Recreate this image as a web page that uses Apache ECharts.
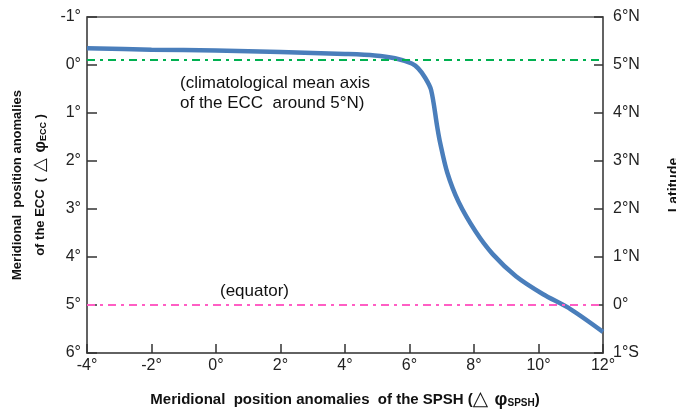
<!DOCTYPE html>
<html>
<head>
<meta charset="utf-8">
<script src="https://cdn.jsdelivr.net/npm/echarts@6/dist/echarts.min.js"></script>
<style>
html,body{margin:0;padding:0;background:#fff;}
#chart{width:676px;height:412px;}
</style>
</head>
<body>
<div id="chart"></div>
<script>
// SPSH meridional anomaly (x) and ECC meridional anomaly (y)
var spshAnomaly = [-4, -2, 0, 2, 4, 4.92, 5.55, 6.07, 6.27, 6.48, 6.67, 6.86, 6.95, 7.17, 7.52, 8.05, 8.58, 9.3, 10.13, 11.0, 12.0];
var eccAnomaly  = [-0.35, -0.32, -0.30, -0.27, -0.23, -0.20, -0.14, -0.03, 0.07, 0.26, 0.52, 1.29, 1.62, 2.24, 2.85, 3.47, 3.94, 4.40, 4.77, 5.09, 5.56];

// reference lines (values on the ECC anomaly axis)
var refLineNames  = ['climatological mean axis', 'equator'];
var refLineValues = [-0.1, 5];
var refLineColors = ['#00B050', '#FF5EC4'];

// tick labels
var xTickLabels     = ['-4°', '-2°', '0°', '2°', '4°', '6°', '8°', '10°', '12°'];
var leftTickLabels  = ['-1°', '0°', '1°', '2°', '3°', '4°', '5°', '6°'];
var rightTickLabels = ['6°N', '5°N', '4°N', '3°N', '2°N', '1°N', '0°', '1°S'];

var FONT = 'Liberation Sans, Arial, sans-serif';
var axisColor = '#595959';

var chart = echarts.init(document.getElementById('chart'));

var points = spshAnomaly.map(function (x, i) { return [x, eccAnomaly[i]]; });

function nameRich(base, lh) {
  return {
    n: { fontSize: base, fontWeight: 'bold', color: '#111', fontFamily: FONT, lineHeight: lh },
    t: { fontSize: base + 5, color: '#111', fontFamily: 'DejaVu Sans, sans-serif', lineHeight: lh },
    p: { fontSize: base + 3, fontWeight: 'bold', color: '#111', fontFamily: FONT, lineHeight: lh },
    s: { fontSize: Math.round(base * 0.68), fontWeight: 'bold', color: '#111', fontFamily: FONT, lineHeight: lh, padding: [7, 0, 0, 0] }
  };
}

var option = {
  animation: false,
  grid: {
    left: 87, right: 73, top: 17, bottom: 59,
    outerBoundsMode: 'none',
    containLabel: false,
    show: true, borderColor: axisColor, borderWidth: 1.5, backgroundColor: 'transparent'
  },
  xAxis: {
    type: 'value', min: -4, max: 12, interval: 2,
    axisLine: { show: true, onZero: false, lineStyle: { color: axisColor, width: 1.5 } },
    axisTick: { show: true, inside: true, length: 9, lineStyle: { color: '#333', width: 1.5 } },
    splitLine: { show: false },
    axisLabel: {
      margin: 5, fontSize: 16, color: '#222', fontFamily: FONT,
      formatter: function (v) { return xTickLabels[Math.round((v + 4) / 2)]; }
    },
    name: '{n|Meridional  position anomalies  of the SPSH (}{t|△ }{p|φ}{s|SPSH}{n|)}',
    nameLocation: 'middle', nameGap: 36,
    nameTextStyle: { rich: nameRich(15, 22) }
  },
  yAxis: [
    {
      type: 'value', min: -1, max: 6, interval: 1, inverse: true, position: 'left',
      axisLine: { show: true, onZero: false, lineStyle: { color: axisColor, width: 1.5 } },
      axisTick: { show: true, inside: true, length: 10, lineStyle: { color: '#333', width: 1.5 } },
      splitLine: { show: false },
      axisLabel: {
        margin: 6, fontSize: 16, color: '#222', fontFamily: FONT,
        formatter: function (v) { return leftTickLabels[Math.round(v + 1)]; }
      },
      name: '{n|Meridional  position anomalies}\n{n|of the ECC  (}{t| △ }{p|φ}{s|ECC}{n| )}',
      nameLocation: 'middle', nameGap: 35, nameRotate: 90,
      nameMoveOverlap: false,
      nameTextStyle: { lineHeight: 23, rich: nameRich(13, 23) }
    },
    {
      type: 'value', min: -1, max: 6, interval: 1, inverse: true, position: 'right',
      axisLine: { show: true, onZero: false, lineStyle: { color: axisColor, width: 1.5 } },
      axisTick: { show: true, inside: true, length: 9, lineStyle: { color: '#333', width: 1.5 } },
      splitLine: { show: false },
      axisLabel: {
        margin: 10, fontSize: 16, color: '#222', fontFamily: FONT,
        formatter: function (v) { return rightTickLabels[Math.round(v + 1)]; }
      },
      name: 'Latitude',
      nameLocation: 'middle', nameGap: 64, nameRotate: 90,
      nameTextStyle: { fontSize: 14, fontWeight: 'bold', color: '#111', fontFamily: FONT }
    }
  ],
  series: [
    {
      type: 'line',
      data: points,
      xAxisIndex: 0, yAxisIndex: 0,
      showSymbol: false,
      smooth: 0.3,
      lineStyle: { color: '#4A7EBB', width: 4.5 },
      z: 3,
      markLine: {
        silent: true,
        symbol: ['none', 'none'],
        label: { show: false },
        data: refLineValues.map(function (v, i) {
          return {
            name: refLineNames[i], yAxis: v,
            lineStyle: { color: refLineColors[i], width: 2, type: [8, 5, 3, 5] }
          };
        })
      }
    }
  ],
  graphic: [
    {
      type: 'text', left: 180, top: 73, z: 10,
      style: {
        text: '(climatological mean axis\nof the ECC  around 5°N)',
        fontSize: 17, lineHeight: 20, fill: '#111', fontFamily: FONT
      }
    },
    {
      type: 'text', left: 220, top: 283, z: 10,
      style: { text: '(equator)', fontSize: 17, fill: '#111', fontFamily: FONT }
    }
  ]
};

chart.setOption(option);
</script>
</body>
</html>
